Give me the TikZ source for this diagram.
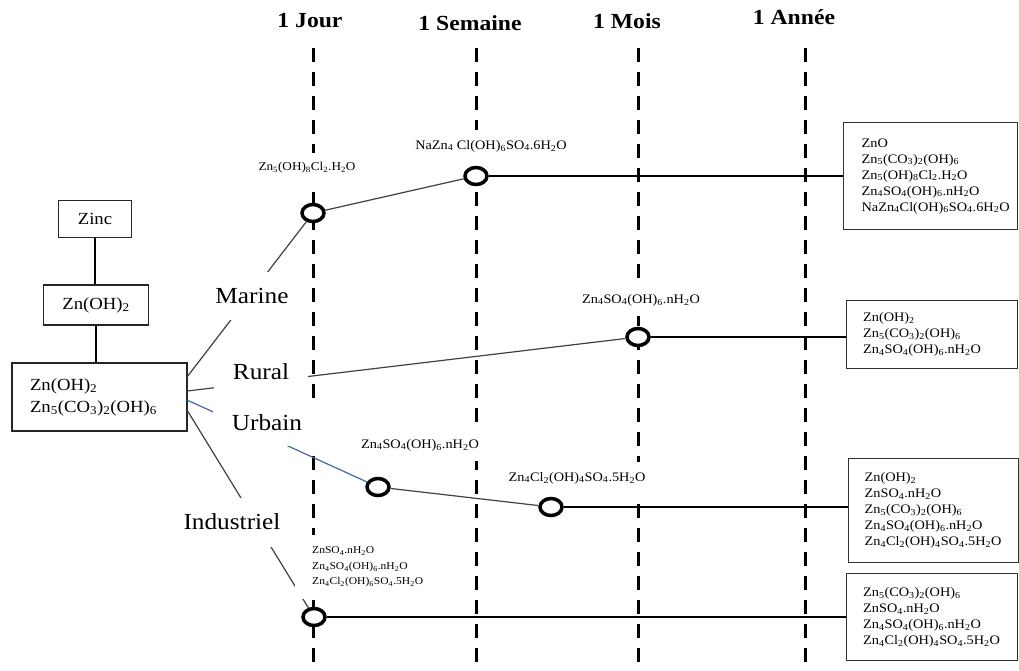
\documentclass[tikz,border=0pt]{standalone}
\usepackage{fontspec}
\setmainfont{Liberation Serif}[FakeStretch=1.1]
\usetikzlibrary{shapes.geometric}
\newcommand{\sbs}[1]{\textsubscript{#1}}
\definecolor{urbblue}{HTML}{4467A8}
\begin{document}
\begin{tikzpicture}[x=1pt,y=-1pt,
  hdr/.style={font=\fontsize{21.5}{24}\selectfont\bfseries},
  tline/.style={line width=3pt, dash pattern=on 14pt off 10pt},
  lbox/.style={draw=black!85, line width=1.2pt, fill=white, font=\fontsize{17}{22}\selectfont},
  rbox/.style={draw=black!80, line width=1.3pt, fill=white, anchor=north west, inner xsep=16pt, text width=138pt, align=left, font=\fontsize{13}{16}\selectfont},
  cat/.style={fill=white, font=\fontsize{23}{26}\selectfont, text height=15pt, text depth=1pt, inner xsep=3pt},
  slbl/.style={fill=white, font=\fontsize{13}{15}\selectfont, inner xsep=4pt, inner ysep=10pt},
  ev/.style={ellipse, draw=black, line width=3.5pt, fill=white, minimum width=22pt, minimum height=17pt, inner sep=0pt},
  conn/.style={line width=1.2pt, draw=black!75},
  hconn/.style={line width=1.3pt, draw=black}
]
\useasboundingbox (0,0) rectangle (1019,670);

% headers
\node[hdr] (hj) at (310,21) {1 Jour};
\node[hdr] (hs) at (470,23) {1 Semaine};
\node[hdr] (hm) at (627,21) {1 Mois};
\node[hdr] (ha) at (794,17) {1 Année};

% time lines
\coordinate (j0) at (313,48); \coordinate (j1) at (313,672);
\coordinate (s0) at (476,48); \coordinate (s1) at (476,672);
\coordinate (m0) at (638,48); \coordinate (m1) at (638,672);
\coordinate (a0) at (805,48); \coordinate (a1) at (805,672);
\draw[tline] (j0) -- (j1);
\draw[tline] (s0) -- (s1);
\draw[tline] (m0) -- (m1);
\draw[tline] (a0) -- (a1);

% left boxes
\node[lbox, minimum width=73pt, minimum height=37pt] (zinc) at (95,219) {Zinc};
\node[lbox, minimum width=105pt, minimum height=40pt] (zoh) at (96,305) {Zn(OH)\sbs{2}};
\node[lbox, minimum width=175pt, minimum height=68pt, text width=139pt, align=left] (big) at (99.5,397) {Zn(OH)\sbs{2}\\Zn\sbs{5}(CO\sbs{3})\sbs{2}(OH)\sbs{6}};
\draw[conn, draw=black] (zinc.south) -- (zinc.south |- zoh.north);
\draw[conn, draw=black] (zoh.south) -- (zoh.south |- big.north);

% right boxes
\node[rbox, minimum width=174pt, minimum height=107pt] (b1) at (843,122) {ZnO\\Zn\sbs{5}(CO\sbs{3})\sbs{2}(OH)\sbs{6}\\Zn\sbs{5}(OH)\sbs{8}Cl\sbs{2}.H\sbs{2}O\\Zn\sbs{4}SO\sbs{4}(OH)\sbs{6}.nH\sbs{2}O\\NaZn\sbs{4}Cl(OH)\sbs{6}SO\sbs{4}.6H\sbs{2}O};
\node[rbox, minimum width=171pt, minimum height=68pt] (b2) at (846,300) {Zn(OH)\sbs{2}\\Zn\sbs{5}(CO\sbs{3})\sbs{2}(OH)\sbs{6}\\Zn\sbs{4}SO\sbs{4}(OH)\sbs{6}.nH\sbs{2}O};
\node[rbox, minimum width=169pt, minimum height=104pt] (b3) at (848,458) {Zn(OH)\sbs{2}\\ZnSO\sbs{4}.nH\sbs{2}O\\Zn\sbs{5}(CO\sbs{3})\sbs{2}(OH)\sbs{6}\\Zn\sbs{4}SO\sbs{4}(OH)\sbs{6}.nH\sbs{2}O\\Zn\sbs{4}Cl\sbs{2}(OH)\sbs{4}SO\sbs{4}.5H\sbs{2}O};
\node[rbox, minimum width=171pt, minimum height=87pt] (b4) at (846,573) {Zn\sbs{5}(CO\sbs{3})\sbs{2}(OH)\sbs{6}\\ZnSO\sbs{4}.nH\sbs{2}O\\Zn\sbs{4}SO\sbs{4}(OH)\sbs{6}.nH\sbs{2}O\\Zn\sbs{4}Cl\sbs{2}(OH)\sbs{4}SO\sbs{4}.5H\sbs{2}O};

% circles
\node[ev] (c1) at (313,213) {};
\node[ev] (c2) at (476,176) {};
\node[ev] (c3) at (638,337) {};
\node[ev] (c4) at (378,487) {};
\node[ev] (c5) at (551,507) {};
\node[ev] (c6) at (314,617) {};

% start points on the big box
\coordinate (pm) at (187,377);
\coordinate (pr) at (187,391);
\coordinate (pu) at (187,400);
\coordinate (pi) at (187,410);

% connectors
\draw[conn] (pm) -- (c1);
\draw[conn] (c1) -- (c2);
\draw[hconn] (c2) -- (c2 -| b1.west);
\draw[conn] (pr) -- (c3);
\draw[hconn] (c3) -- (c3 -| b2.west);
\draw[conn, draw=urbblue] (pu) -- (c4);
\draw[conn] (c4) -- (c5);
\draw[hconn] (c5) -- (c5 -| b3.west);
\draw[conn] (pi) -- (c6);
\draw[hconn] (c6) -- (c6 -| b4.west);

% category labels
\node[cat, inner ysep=16pt] (marine) at (252,296) {Marine};
\node[cat, inner xsep=19pt, inner ysep=8.5pt] (rural) at (261,372) {Rural};
\node[cat, inner xsep=19pt, inner ysep=15pt] (urbain) at (267,423) {Urbain};
\node[cat, inner ysep=16.5pt] (indus) at (232,522) {Industriel};

% small labels
\node[slbl, font=\fontsize{12}{14}\selectfont] (l1) at (307,168) {Zn\sbs{5}(OH)\sbs{8}Cl\sbs{2}.H\sbs{2}O};
\node[slbl] (l2) at (491,146) {NaZn\sbs{4} Cl(OH)\sbs{6}SO\sbs{4}.6H\sbs{2}O};
\node[slbl] (l3) at (641,300) {Zn\sbs{4}SO\sbs{4}(OH)\sbs{6}.nH\sbs{2}O};
\node[slbl] (l4) at (420,445) {Zn\sbs{4}SO\sbs{4}(OH)\sbs{6}.nH\sbs{2}O};
\node[slbl] (l5) at (577,478) {Zn\sbs{4}Cl\sbs{2}(OH)\sbs{4}SO\sbs{4}.5H\sbs{2}O};
\node[slbl, font=\fontsize{10.5}{15.5}\selectfont, align=left, anchor=west, inner xsep=17pt, inner ysep=12pt] (l6) at (295,567) {ZnSO\sbs{4}.nH\sbs{2}O\\Zn\sbs{4}SO\sbs{4}(OH)\sbs{6}.nH\sbs{2}O\\Zn\sbs{4}Cl\sbs{2}(OH)\sbs{6}SO\sbs{4}.5H\sbs{2}O};
\end{tikzpicture}
\end{document}
